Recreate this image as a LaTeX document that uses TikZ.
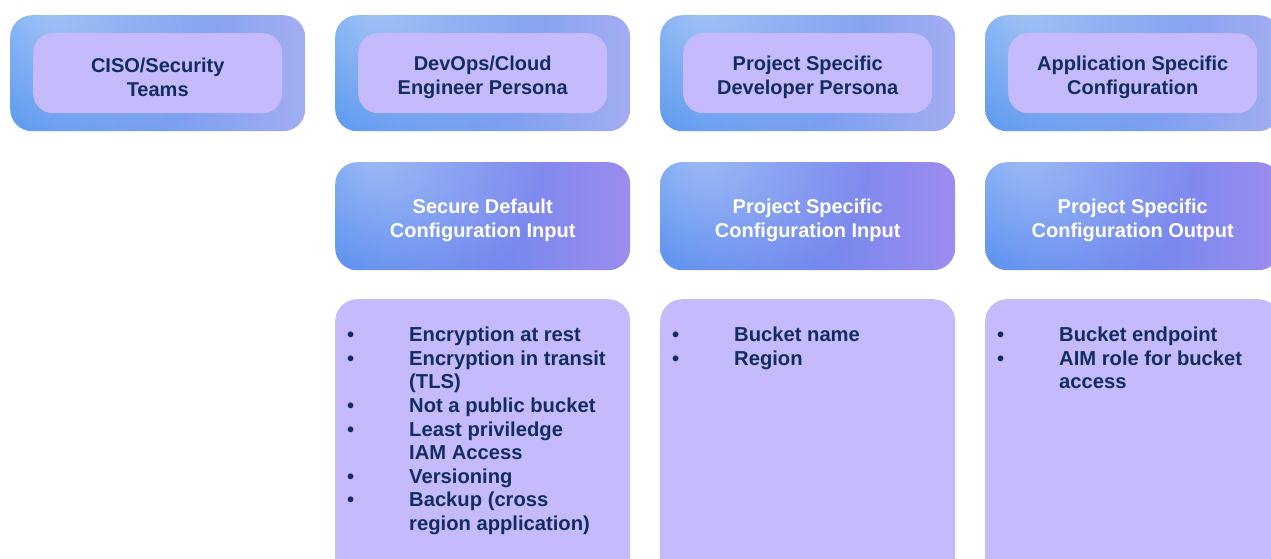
\documentclass[tikz,border=0pt]{standalone}
\usepackage{fontspec}
\setmainfont{Liberation Sans}
\usetikzlibrary{fadings}
\definecolor{ink}{HTML}{132D5E}
\definecolor{lav}{HTML}{C4BAFC}
\definecolor{skyA}{HTML}{4A8EEE}
\definecolor{skyB}{HTML}{A3ADF1}
\definecolor{cfgA}{HTML}{4482EE}
\definecolor{cfgB}{HTML}{9C8CEE}
\tikzfading[name=soft spot, inner color=transparent!0, outer color=transparent!100]
\tikzset{
  x=1pt, y=-1pt,
  card/.style={rectangle, rounded corners=22pt, anchor=north west, inner sep=0pt,
    minimum width=295pt},
  persona/.style={card, minimum height=116pt, left color=skyA, right color=skyB},
  config/.style={card, minimum height=108pt, left color=cfgA, right color=cfgB},
  listcard/.style={card, minimum height=290pt, fill=lav},
  title/.style={font=\fontsize{20}{24}\selectfont\bfseries, align=center, yshift=-4pt},
  label/.style={rectangle, rounded corners=20pt, inner sep=0pt, minimum width=249pt,
    minimum height=80pt, fill=lav},
  items/.style={anchor=north west, inner sep=0pt, text=ink,
    font=\fontsize{20.2}{23.6}\selectfont\bfseries},
  glow/.style={fill=white, fill opacity=0.45, path fading=soft spot}
}
\newcommand{\itemlist}[1]{\begin{tabular}{@{}p{62pt}@{}l@{}}#1\end{tabular}}
% soft light patch in the upper left corner of a card
\newcommand{\cardglow}[1]{%
  \begin{scope}
    \clip[rounded corners=22pt] (#1.north west) rectangle (#1.south east);
    \path[glow] ([shift={(40,-10)}]#1.north west) circle (170pt);
  \end{scope}}
\begin{document}
\begin{tikzpicture}
\useasboundingbox (0,0) rectangle (1271,558);

% persona row
\node[persona] (p1) at (10,15) {};
\node[persona] (p2) at (335,15) {};
\node[persona] (p3) at (660,15) {};
\node[persona] (p4) at (985,15) {};
\foreach \n in {p1,p2,p3,p4} {\cardglow{\n}}
\node[label] (l1) at (p1.center) {};
\node[label] (l2) at (p2.center) {};
\node[label] (l3) at (p3.center) {};
\node[label] (l4) at (p4.center) {};
\node[title, text=ink] (n1) at (l1.center) {CISO/Security\\Teams};
\node[title, text=ink] (n2) at (l2.center) {DevOps/Cloud\\Engineer Persona};
\node[title, text=ink] (n3) at (l3.center) {Project Specific\\Developer Persona};
\node[title, text=ink] (n4) at (l4.center) {Application Specific\\Configuration};

% configuration row
\node[config] (c2) at (335,162) {};
\node[config] (c3) at (660,162) {};
\node[config] (c4) at (985,162) {};
\foreach \n in {c2,c3,c4} {\cardglow{\n}}
\node[title, text=white] (t2) at (c2.center) {Secure Default\\Configuration Input};
\node[title, text=white] (t3) at (c3.center) {Project Specific\\Configuration Input};
\node[title, text=white] (t4) at (c4.center) {Project Specific\\Configuration Output};

% detail row
\node[listcard] (d2) at (335,299) {};
\node[listcard] (d3) at (660,299) {};
\node[listcard] (d4) at (985,299) {};
\node[items] (i2) at ([shift={(12,26)}]d2.north west) {\itemlist{
  • & Encryption at rest\\
  • & Encryption in transit\\
    & (TLS)\\
  • & Not a public bucket\\
  • & Least priviledge\\
    & IAM Access\\
  • & Versioning\\
  • & Backup (cross\\
    & region application)}};
\node[items] (i3) at ([shift={(12,26)}]d3.north west) {\itemlist{
  • & Bucket name\\
  • & Region}};
\node[items] (i4) at ([shift={(12,26)}]d4.north west) {\itemlist{
  • & Bucket endpoint\\
  • & AIM role for bucket\\
    & access}};
\end{tikzpicture}
\end{document}
